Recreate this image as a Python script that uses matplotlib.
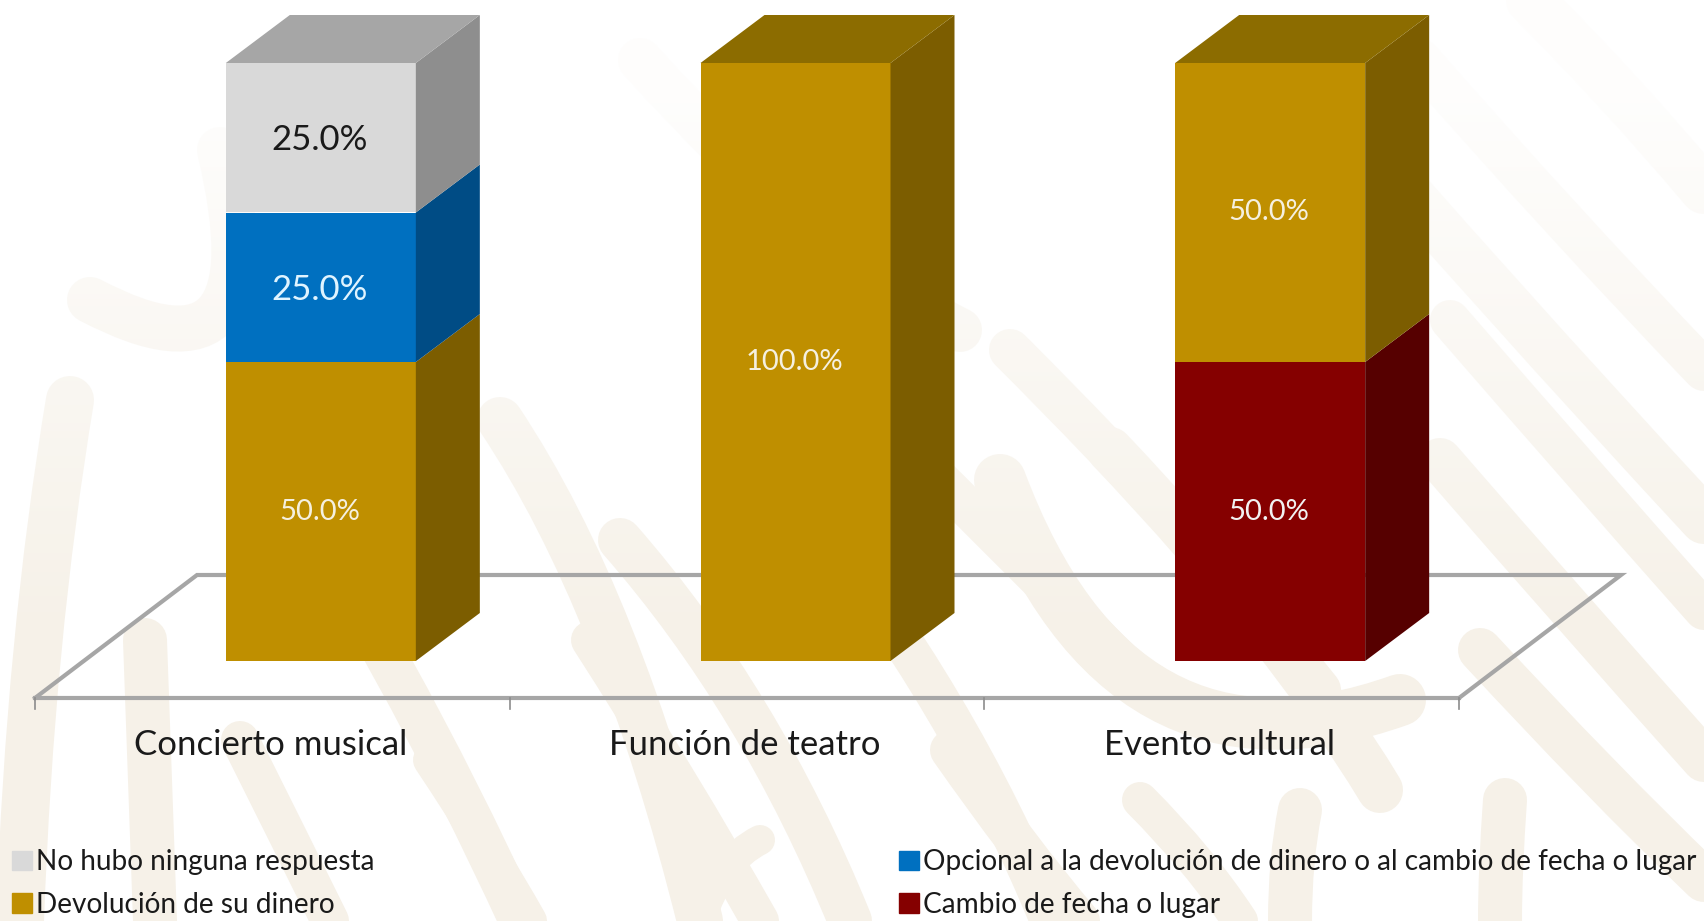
import numpy as np
from matplotlib import pyplot as plt
from matplotlib.patches import Polygon, PathPatch, Patch
from matplotlib.path import Path
from matplotlib.transforms import Affine2D
#
plt.rcParams['font.family'] = ['Lato', 'DejaVu Sans']
#
categories = ['Concierto musical', 'Función de teatro', 'Evento cultural']
cambio = [0., 0., 50.]
devolucion = [50., 100., 50.]
opcional = [25., 0., 0.]
ninguna = [25., 0., 0.]
#
names = ['Cambio de fecha o lugar', 'Devolución de su dinero',
         'Opcional a la devolución de dinero o al cambio de fecha o lugar',
         'No hubo ninguna respuesta']
front = ['#850000', '#BF8F00', '#0070C0', '#D9D9D9']
side = ['#560000', '#7C5D00', '#004C85', '#8E8E8E']
top = ['#5E0000', '#8C6C00', '#00508C', '#A6A6A6']
txt = ['#F2F2F2', '#F5F0E0', '#E0F4FF', '#1A1A1A']
txt_size = [21, 21, 25, 25]
#
W, H = 1704, 921
fig = plt.figure(figsize=(W/100., H/100.), dpi=100, facecolor='white')
#
# pale watermark behind the chart (pixel coords of the picture)
bg = fig.add_axes([0, 0, 1, 1], zorder=0)
bg.set_xlim(0, W)
bg.set_ylim(H, 0)
bg.axis('off')
strokes = [
    ((1530, 0), (1620, 90), (1704, 190), 48), ((1420, 60), (1560, 220), (1704, 370), 42),
    ((1300, 70), (1500, 300), (1704, 520), 48), ((1450, 320), (1580, 470), (1704, 610), 40),
    ((1440, 460), (1570, 610), (1704, 760), 44), ((1480, 650), (1600, 780), (1704, 880), 44),
    ((1010, 350), (1200, 540), (1320, 690), 42), ((1110, 450), (1290, 640), (1380, 790), 46),
    ((1000, 480), (1120, 800), (1400, 700), 52), ((880, 420), (1060, 600), (1160, 700), 40),
    ((800, 500), (960, 700), (1050, 921), 40), ((620, 540), (760, 700), (850, 921), 44),
    ((590, 640), (680, 780), (760, 921), 38), ((500, 420), (620, 600), (700, 921), 46),
    ((250, 430), (400, 660), (520, 921), 42), ((430, 760), (490, 850), (530, 921), 34),
    ((240, 740), (290, 840), (330, 921), 38), ((145, 640), (150, 780), (155, 921), 44),
    ((20, 921), (30, 640), (70, 400), 48), ((220, 150), (280, 400), (90, 300), 46),
    ((1290, 921), (1290, 860), (1300, 810), 44), ((1500, 921), (1500, 870), (1505, 800), 44),
    ((700, 921), (720, 860), (760, 840), 30), ((950, 750), (1020, 850), (1080, 921), 40),
    ((1140, 800), (1200, 860), (1240, 921), 36), ((640, 60), (820, 260), (960, 330), 44),
]
for p0, c, p1, lw in strokes:
    pth = Path([p0, c, p1], [Path.MOVETO, Path.CURVE3, Path.CURVE3])
    bg.add_patch(PathPatch(pth, fill=False, edgecolor='#F6F1E8', lw=lw*0.72, capstyle='round'))
# the watermark fades out towards the top
fade = np.ones((H, 1, 4))
fade[:, 0, 3] = np.clip(1.-(np.arange(H)-40.)/600., 0., 0.9)
bg.imshow(fade, extent=[0, W, H, 0], aspect='auto', zorder=5)
bg.set_xlim(0, W)
bg.set_ylim(H, 0)
#
# chart axes: 0-100 spans the front face of the bars, three categories span the floor
x0, x1 = 35., 1459.
y0, y100 = 661., 63.
ax = fig.add_axes([x0/W, 1.-y0/H, (x1-x0)/W, (y0-y100)/H], zorder=1)
ax.patch.set_alpha(0.)
ax.set_xlim(-0.5, 2.5)
ax.set_ylim(0, 100)
for s in ax.spines.values():
    s.set_visible(False)
#
px = 3./(x1-x0)       # one pixel in x data units
py = 100./(y0-y100)   # one pixel in y data units
dx = 64.*px
dy = 48.*py
bar_w = 190.*px
shift = 48.5*px
#
# floor
floor_y = -37.*py
c_floor = '#A6A6A6'
ax.plot([-0.5, 2.5], [floor_y, floor_y], color=c_floor, lw=3, clip_on=False, zorder=1)
fx = 162.*px
fy = 123.*py
ax.plot([-0.5, -0.5+fx, 2.5+fx, 2.5], [floor_y, floor_y+fy, floor_y+fy, floor_y],
        color=c_floor, lw=3, clip_on=False, zorder=1, solid_joinstyle='miter')
for t in [-0.5, 0.5, 1.5, 2.5]:
    ax.plot([t, t], [floor_y, floor_y-11.*py], color='#8C8C8C', lw=1.2, clip_on=False, zorder=1)
#
xs = np.arange(len(categories))+shift
series = [cambio, devolucion, opcional, ninguna]
bottom = np.zeros(len(categories))
tops = np.array(series).sum(axis=0)
for i, vals in enumerate(series):
    vals = np.array(vals)
    ax.bar(xs, vals, bar_w, bottom=bottom, color=front[i], zorder=3, clip_on=False)
    for k in range(len(categories)):
        if vals[k] <= 0.:
            continue
        xr = xs[k]+bar_w/2.
        xl = xs[k]-bar_w/2.
        yb = bottom[k]
        yt = bottom[k]+vals[k]
        ax.add_patch(Polygon([(xr, yb), (xr+dx, yb+dy), (xr+dx, yt+dy), (xr, yt)],
                             color=side[i], lw=0, zorder=3, clip_on=False))
        if yt >= tops[k]:
            ax.add_patch(Polygon([(xl, yt), (xl+dx, yt+dy), (xr+dx, yt+dy), (xr, yt)],
                                 color=top[i], lw=0, zorder=3, clip_on=False))
        off = -2.5*py if txt_size[i] == 25 else 0.
        ax.text(xs[k]-1.*px, yb+vals[k]/2.+off, '%.1f%%' % vals[k], color=txt[i], fontsize=txt_size[i],
                ha='center', va='center', zorder=4)
    bottom = bottom+vals
#
ax.set_yticks([])
ax.set_xticks(np.arange(len(categories)))
ax.set_xticklabels(categories, fontsize=25, color='#1A1A1A')
ax.tick_params(axis='x', length=0, pad=49)
for lbl in ax.get_xticklabels():
    lbl.set_transform(lbl.get_transform()+Affine2D().translate(-2., 0.))
#
order = [3, 1, 2, 0]
handles = [Patch(color=front[i]) for i in order]
leg = fig.legend(handles, [names[i] for i in order], ncol=2, frameon=False, fontsize=20.2,
                 loc='lower left', bbox_to_anchor=(12./W, 3./H), bbox_transform=fig.transFigure,
                 borderpad=0, borderaxespad=0, handlelength=0.7, handleheight=0.7,
                 handletextpad=0.15, columnspacing=18.7, labelspacing=0.6, labelcolor='#1A1A1A')
#
fig.savefig('out.png', dpi=100)
